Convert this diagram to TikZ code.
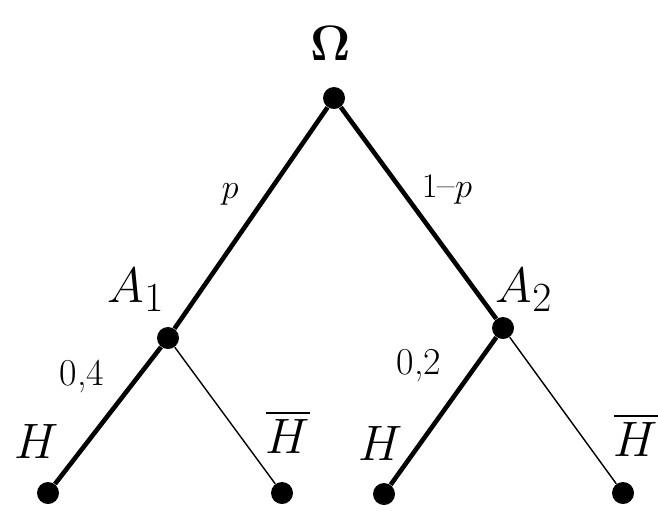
\documentclass[tikz,border=0pt]{standalone}
\usepackage{amsmath}
\usetikzlibrary{positioning}
\tikzset{
  knot/.style={circle, fill=black, inner sep=0pt, minimum size=11pt},
  branch/.style={line width=2.3pt, black},
  thinbranch/.style={line width=0.7pt, black},
  event/.style={font=\fontsize{30}{36}\selectfont, inner sep=0pt},
  omega/.style={font=\fontsize{27}{32}\selectfont, inner sep=0pt},
  prob/.style={font=\fontsize{19}{23}\selectfont, inner sep=0pt},
}

\begin{document}
\begin{tikzpicture}[x=0.5pt, y=-0.5pt]
  \useasboundingbox (0,0) rectangle (658,510);
  % vertices of the tree
  \node[knot] (root) at (334,98) {};
  \node[knot] (a1) at (168,338) {};
  \node[knot] (a2) at (503,328) {};
  \node[knot] (h1) at (48,493) {};
  \node[knot] (hb1) at (282,493) {};
  \node[knot] (h2) at (384,494) {};
  \node[knot] (hb2) at (623,493) {};
  % labels
  \node[omega] (omegalab) at (331,43) {$\boldsymbol{\Omega}$};
  \node[event] (a1lab) at (136,290) {$A_1$};
  \node[event] (a2lab) at (524,290) {$A_2$};
  \node[event] (h1lab) at (37,441) {$H$};
  \node[event] (hb1lab) at (288,432) {$\overline{H}$};
  \node[event] (h2lab) at (381,443) {$H$};
  \node[event] (hb2lab) at (636,435) {$\overline{H}$};
  \node[prob] (plab) at (230,194) {$p$};
  \node[prob] (qlab) at (447,190) {$1\text{--}p$};
  \node[prob] (p4lab) at (82,376) {0,4};
  \node[prob] (p2lab) at (419,366) {0,2};
  % branches
  \draw[branch] (root) -- (a1);
  \draw[branch] (root) -- (a2);
  \draw[branch] (a1) -- (h1);
  \draw[thinbranch] (a1) -- (hb1);
  \draw[branch] (a2) -- (h2);
  \draw[thinbranch] (a2) -- (hb2);
\end{tikzpicture}
\end{document}
